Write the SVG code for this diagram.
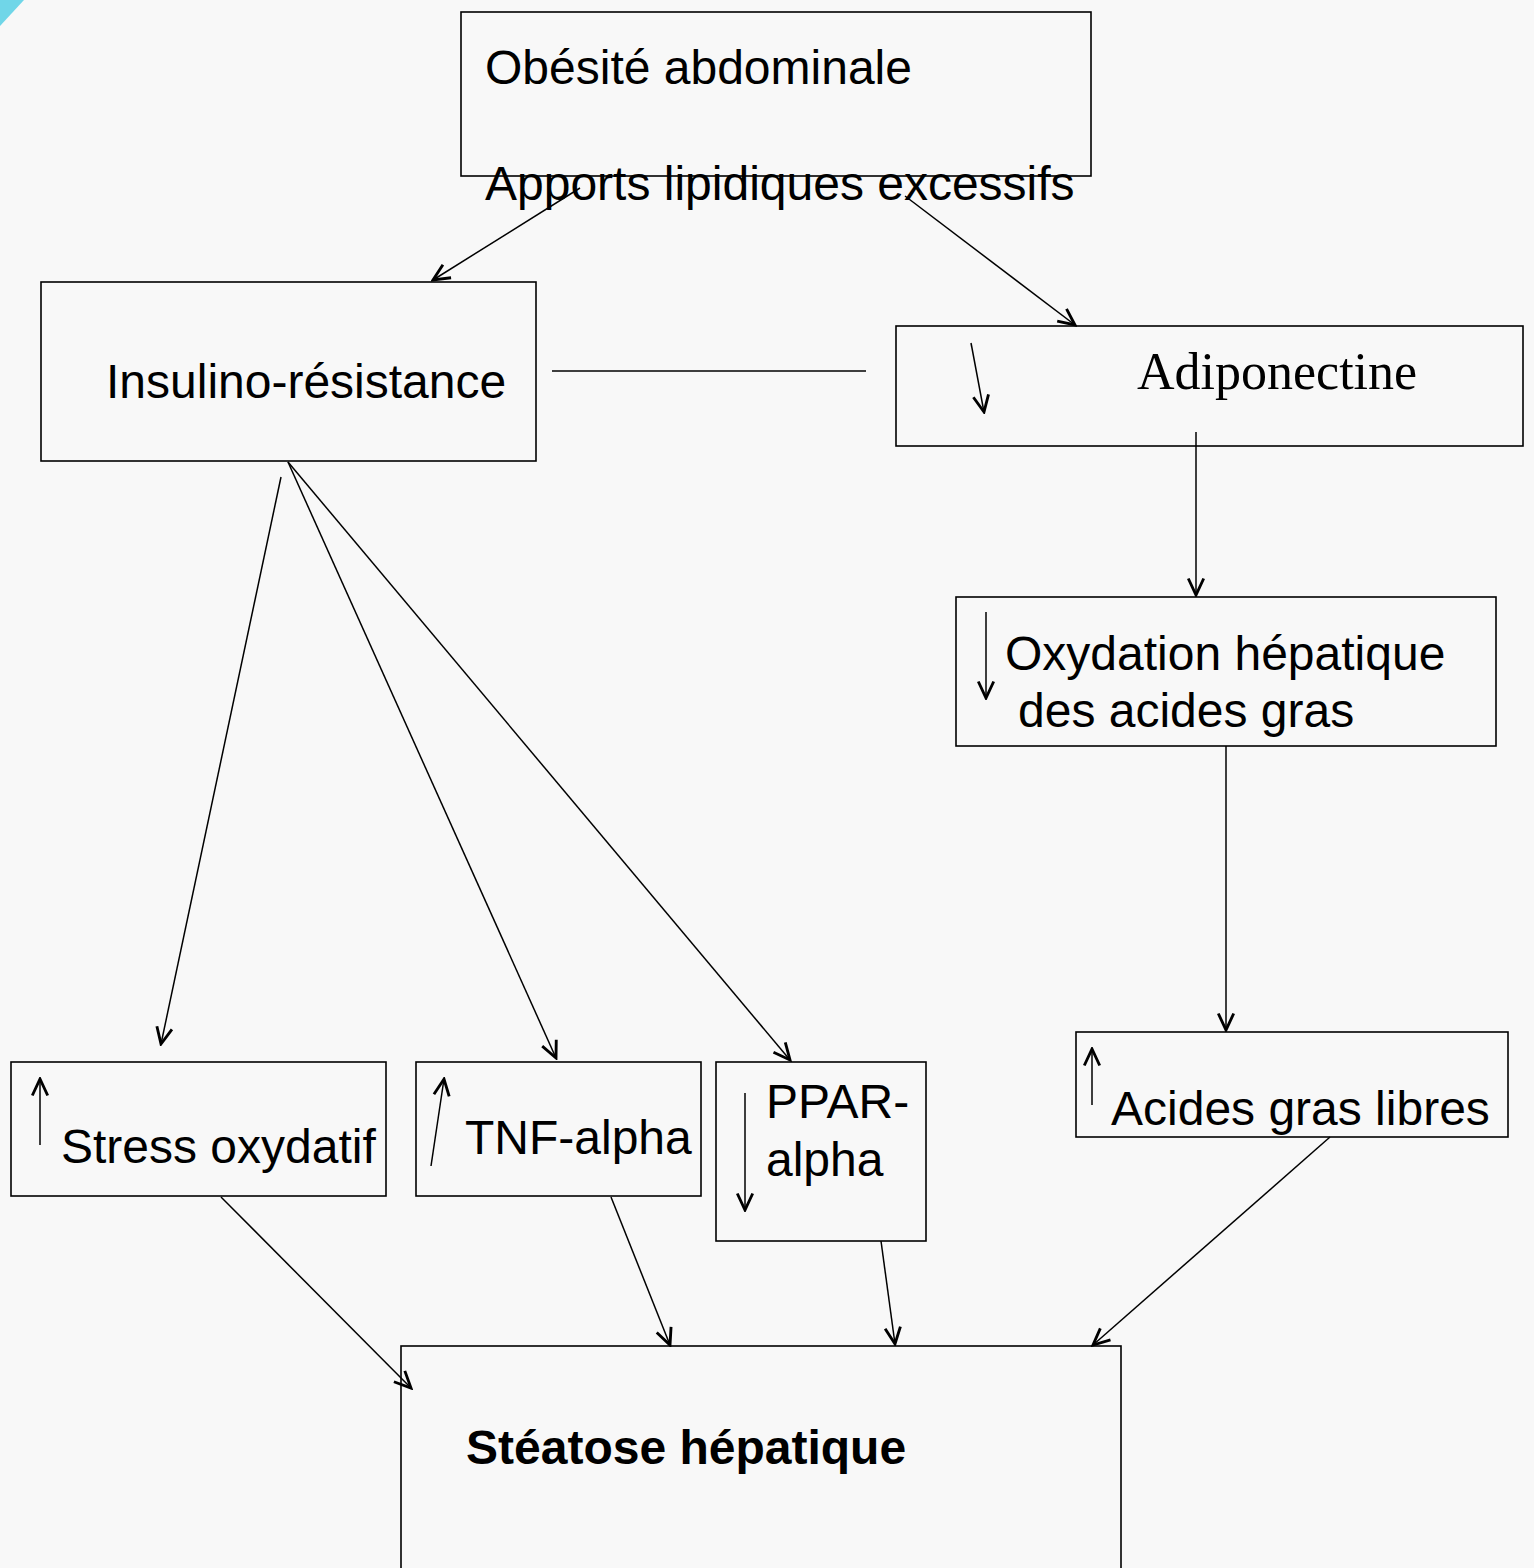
<svg xmlns="http://www.w3.org/2000/svg" width="1534" height="1568" viewBox="0 0 1534 1568">
<defs>
<marker id="arr" markerUnits="userSpaceOnUse" markerWidth="22" markerHeight="22" viewBox="-18 -9 20 18" refX="0" refY="0" orient="auto">
<path d="M-15,-7 L0,0 L-15,7" fill="none" stroke="#000" stroke-width="2.6"/>
</marker>
</defs>
<style>
.box{fill:none;stroke:#000;stroke-width:1.6}
.t{font-family:"Liberation Sans",Arial,sans-serif;font-size:48px;fill:#000}
.ts{font-family:"Liberation Serif","Times New Roman",serif;font-size:52px;fill:#000}
.c{stroke:#000;stroke-width:1.5;fill:none}
.ca{stroke:#000;stroke-width:1.5;fill:none;marker-end:url(#arr)}
</style>
<rect width="1534" height="1568" fill="#f8f8f8"/>
<polygon points="0,0 24,0 0,26" fill="#70d6e8"/>

<g id="connectors">
<line class="ca" x1="580" y1="188" x2="433" y2="280"/>
<line class="ca" x1="905" y1="196" x2="1075" y2="325"/>
<line class="c" x1="552" y1="371" x2="866" y2="371"/>
<line class="ca" x1="1196" y1="432" x2="1196" y2="595"/>
<line class="ca" x1="1226" y1="746" x2="1226" y2="1030"/>
<line class="ca" x1="281" y1="477" x2="161" y2="1044"/>
<line class="ca" x1="288" y1="462" x2="556" y2="1058"/>
<line class="ca" x1="288" y1="462" x2="790" y2="1060"/>
<line class="ca" x1="221" y1="1197" x2="411" y2="1388"/>
<line class="ca" x1="611" y1="1197" x2="670" y2="1345"/>
<line class="ca" x1="881" y1="1241" x2="895" y2="1344"/>
<line class="ca" x1="1330" y1="1137" x2="1093" y2="1345"/>
</g>

<g id="obesite">
<rect class="box" x="461" y="12" width="630" height="164"/>
<text class="t" x="485" y="84">Obésité abdominale</text>
<text class="t" x="485" y="200">Apports lipidiques excessifs</text>
</g>

<g id="insulino">
<rect class="box" x="41" y="282" width="495" height="179"/>
<text class="t" x="106" y="398">Insulino-résistance</text>
</g>

<g id="adiponectine">
<rect class="box" x="896" y="326" width="627" height="120"/>
<line class="ca" x1="971" y1="343" x2="984" y2="412"/>
<text class="ts" x="1137" y="389">Adiponectine</text>
</g>

<g id="oxydation">
<rect class="box" x="956" y="597" width="540" height="149"/>
<line class="ca" x1="986" y1="612" x2="986" y2="698"/>
<text class="t" x="1005" y="670">Oxydation hépatique</text>
<text class="t" x="1018" y="727">des acides gras</text>
</g>

<g id="acides">
<rect class="box" x="1076" y="1032" width="432" height="105"/>
<line class="ca" x1="1092" y1="1105" x2="1092" y2="1049"/>
<text class="t" x="1111" y="1125">Acides gras libres</text>
</g>

<g id="stress">
<rect class="box" x="11" y="1062" width="375" height="134"/>
<line class="ca" x1="40" y1="1145" x2="40" y2="1079"/>
<text class="t" x="61" y="1163">Stress oxydatif</text>
</g>

<g id="tnf">
<rect class="box" x="416" y="1062" width="285" height="134"/>
<line class="ca" x1="431" y1="1166" x2="444" y2="1079"/>
<text class="t" x="465" y="1154">TNF-alpha</text>
</g>

<g id="ppar">
<rect class="box" x="716" y="1062" width="210" height="179"/>
<line class="ca" x1="745" y1="1093" x2="745" y2="1210"/>
<text class="t" x="766" y="1118">PPAR-</text>
<text class="t" x="766" y="1176">alpha</text>
</g>

<g id="steatose">
<rect class="box" x="401" y="1346" width="720" height="240"/>
<text class="t" x="466" y="1464" font-weight="bold">Stéatose hépatique</text>
</g>
</svg>
